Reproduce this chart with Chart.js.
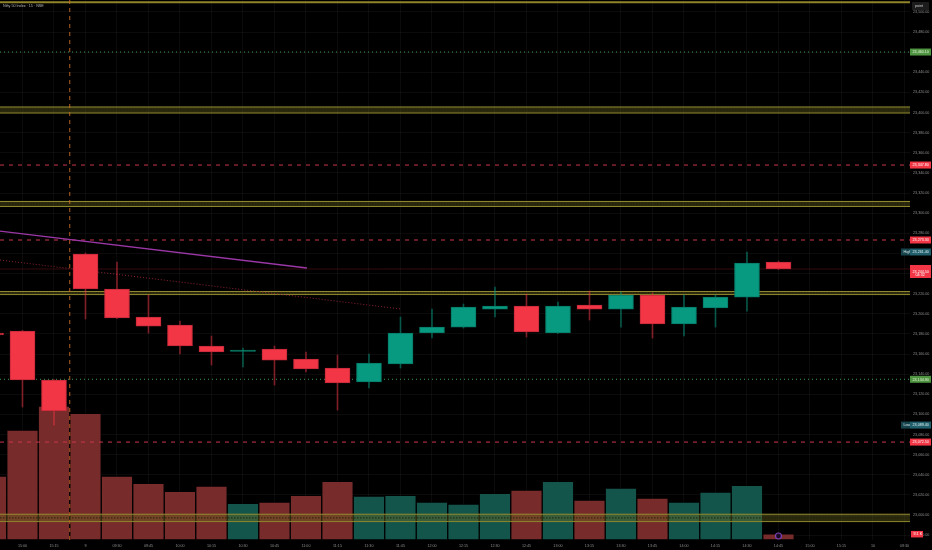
<!DOCTYPE html>
<html>
<head>
<meta charset="utf-8">
<script src="https://cdn.jsdelivr.net/npm/chart.js@4.4.1/dist/chart.umd.min.js"></script>
<style>
  html, body { margin: 0; padding: 0; background: #000; }
  canvas { display: block; }
</style>
</head>
<body>
<canvas id="chart" width="932" height="550"></canvas>
<script>
// slots: index -1 .. 28 (15 min bars), label per slot
var slotIndex = [-1, 0, 1, 2, 3, 4, 5, 6, 7, 8, 9, 10, 11, 12, 13, 14, 15, 16, 17, 18, 19, 20, 21, 22, 23, 24, 25, 26, 27, 28];
var timeLabels = ["14:45", "15:00", "15:15", "9", "09:30", "09:45", "10:00", "10:15", "10:30", "10:45", "11:00", "11:15",
  "11:30", "11:45", "12:00", "12:15", "12:30", "12:45", "13:00", "13:15", "13:30", "13:45", "14:00", "14:15",
  "14:30", "14:45", "15:00", "15:15", "10", "09:30"];

// candles for slots -1 .. 24
var opens  = [23180.9, 23182.9, 23134.2, 23259.4, 23224.6, 23196.8, 23188.8, 23168.0, 23162.5, 23165.0, 23155.0, 23146.1, 23132.2,
  23150.1, 23180.9, 23186.8, 23204.7, 23207.7, 23180.9, 23208.7, 23204.7, 23218.6, 23189.8, 23205.7, 23216.6, 23251.4];
var highs  = [23183.0, 23183.5, 23134.6, 23260.4, 23251.4, 23218.6, 23192.8, 23177.9, 23166.0, 23168.0, 23162.0, 23159.0, 23160.0,
  23196.8, 23204.7, 23209.7, 23226.6, 23219.6, 23211.7, 23222.6, 23221.6, 23220.6, 23218.6, 23218.6, 23261.4, 23252.4];
var lows   = [23176.0, 23107.3, 23089.4, 23194.8, 23195.2, 23180.9, 23160.0, 23149.1, 23147.1, 23129.2, 23142.1, 23104.3, 23126.2,
  23146.1, 23175.9, 23185.8, 23196.8, 23176.9, 23180.5, 23193.8, 23186.8, 23175.9, 23177.9, 23186.8, 23202.7, 23244.0];
var closes = [23178.9, 23134.2, 23103.4, 23224.6, 23195.8, 23187.8, 23168.0, 23162.0, 23164.0, 23154.0, 23145.1, 23131.2, 23151.1,
  23180.9, 23186.8, 23206.7, 23207.7, 23181.9, 23207.7, 23204.7, 23218.6, 23189.8, 23206.7, 23216.6, 23250.4, 23244.5];
var volumes = [96, 165, 201, 190, 96, 85, 73, 81, 55, 57, 67, 88, 66, 67, 57, 54, 70, 75, 88, 60, 78, 63, 57, 72, 82, 9.1]; // K

var priceTicks = [22980, 23000, 23020, 23040, 23060, 23080, 23100, 23120, 23140, 23160, 23180, 23200, 23220, 23240,
  23260, 23280, 23300, 23320, 23340, 23360, 23380, 23400, 23420, 23440, 23460, 23480, 23500];

// drawings on the chart
var topLevel = [23509.5];
var greenLevels = [23460.1, 23134.9];
var redLevels = [23347.8, 23273.3, 23072.5];
var zoneTops = [23405.5, 23311.6, 23222.1, 23000.8];
var zoneBottoms = [23399.5, 23306.6, 23219.1, 22993.5];
var trendPurple = [[-0.714, 23282.2], [9.03, 23245.5]];
var trendRed = [[-0.714, 23253.4], [12.02, 23204.7]];
var sessionBreaks = [1.5];
var eventMarks = [[24, 6]];

var X_MIN = -0.714, X_MAX = 28.175;
var Y_MIN = 22975.2, Y_MAX = 23511.8;
var UP = '#089981', DOWN = '#f23645';
var FONT = '"Liberation Sans", Arial, sans-serif';

function fmt(v) {
  return v.toLocaleString('en-US', { minimumFractionDigits: 2, maximumFractionDigits: 2 });
}
function candleSlot(k) { return slotIndex[k]; }
var isUp = opens.map(function (o, k) { return closes[k] >= o; });

var datasets = [];

// candle bodies and wicks
datasets.push({
  type: 'bar', label: 'body', order: 1, grouped: false, yAxisID: 'y',
  data: opens.map(function (o, k) { return { x: candleSlot(k), y: [o, closes[k]] }; }),
  backgroundColor: isUp.map(function (u) { return u ? UP : DOWN; }),
  borderColor: isUp.map(function (u) { return u ? '#067a67' : '#c22a3a'; }),
  borderWidth: 1, borderSkipped: false, barThickness: 25, minBarLength: 1
});
datasets.push({
  type: 'bar', label: 'wick', order: 2, grouped: false, yAxisID: 'y',
  data: highs.map(function (h, k) { return { x: candleSlot(k), y: [lows[k], h] }; }),
  backgroundColor: isUp.map(function (u) { return u ? 'rgba(8,153,129,0.55)' : 'rgba(242,54,69,0.5)'; }),
  borderWidth: 0, barThickness: 1
});
// volume
datasets.push({
  type: 'bar', label: 'volume', order: 20, grouped: false, yAxisID: 'yv',
  data: volumes.map(function (v, k) { return { x: candleSlot(k), y: v }; }),
  backgroundColor: isUp.map(function (u) { return u ? '#13554b' : '#772b2b'; }),
  borderColor: 'rgba(0,0,0,0.35)', borderWidth: 1, borderSkipped: false, barThickness: 31.5
});
datasets.push({
  type: 'scatter', label: 'event', order: 0, yAxisID: 'yv',
  data: eventMarks.map(function (e) { return { x: e[0], y: e[1] }; }),
  pointRadius: 3, pointBackgroundColor: '#1a0b24', pointBorderColor: '#7b3fb0', pointBorderWidth: 1.2
});

function hline(p, color, dash, width, order) {
  return {
    type: 'line', order: order, yAxisID: 'y',
    data: [{ x: X_MIN, y: p }, { x: X_MAX, y: p }],
    borderColor: color, borderDash: dash, borderWidth: width, pointRadius: 0, fill: false
  };
}

// zones
zoneTops.forEach(function (t, k) {
  var b = zoneBottoms[k];
  var ds = hline(t, '#958c30', [], 1, 6);
  ds.fill = { value: b };
  ds.backgroundColor = 'rgba(110,105,30,0.4)';
  datasets.push(ds);
  datasets.push(hline(b, '#958c30', [], 1, 6));
  datasets.push(hline((t + b) / 2, 'rgba(30,30,15,0.9)', [1.5, 1.5], 1, 5));
});
topLevel.forEach(function (p) { datasets.push(hline(p, '#8f8429', [], 2, 6)); });
greenLevels.forEach(function (p) { datasets.push(hline(p, '#3f9a55', [1, 3], 1, 6)); });
redLevels.forEach(function (p) { datasets.push(hline(p, '#c8364a', [4, 5], 1, 6)); });
datasets.push(hline(closes[closes.length - 1], 'rgba(242,54,69,0.22)', [], 1, 7));

// trend lines
datasets.push({
  type: 'line', order: 4, yAxisID: 'y',
  data: trendPurple.map(function (p) { return { x: p[0], y: p[1] }; }),
  borderColor: '#9b37a6', borderWidth: 1.3, pointRadius: 0, fill: false
});
datasets.push({
  type: 'line', order: 4, yAxisID: 'y',
  data: trendRed.map(function (p) { return { x: p[0], y: p[1] }; }),
  borderColor: '#8e2335', borderWidth: 1, borderDash: [1, 2], pointRadius: 0, fill: false
});
// session break
sessionBreaks.forEach(function (s) {
  datasets.push({
    type: 'line', order: 3, yAxisID: 'y',
    data: [{ x: s, y: Y_MIN }, { x: s, y: Y_MAX }],
    borderColor: 'rgba(214,110,40,0.85)', borderWidth: 1, borderDash: [4, 4], pointRadius: 0, fill: false
  });
});

function box(ctx, x, y, w, h, bg, txt, fg) {
  ctx.fillStyle = bg;
  ctx.fillRect(x, y, w, h);
  if (txt) {
    ctx.fillStyle = fg;
    ctx.fillText(txt, x + 2.5, y + h / 2 + 0.2);
  }
}

function noPad(s) {
  s.paddingLeft = 0; s.paddingRight = 0; s.paddingTop = 0; s.paddingBottom = 0;
}

var overlay = {
  id: 'overlay',
  afterDraw: function (chart) {
    var ctx = chart.ctx, ys = chart.scales.y, yv = chart.scales.yv, a = chart.chartArea;
    var L = a.right;
    ctx.save();
    ctx.font = '3.7px ' + FONT;
    ctx.textBaseline = 'middle';
    ctx.textAlign = 'left';
    // title
    ctx.fillStyle = '#b5b5b5';
    ctx.fillText('Nifty 50 Index · 15 · NSE', 3, 5.5);
    // top right button
    ctx.fillStyle = '#1c1c1c';
    ctx.fillRect(912, 2, 17, 8);
    ctx.fillStyle = '#d0d0d0';
    ctx.fillText('point', 915, 6.2);

    greenLevels.forEach(function (p) {
      box(ctx, L, ys.getPixelForValue(p) - 3.5, 21, 7, '#4f9440', fmt(p), '#e6f5dc');
    });
    redLevels.forEach(function (p) {
      box(ctx, L, ys.getPixelForValue(p) - 3.5, 21, 7, DOWN, fmt(p), '#ffffff');
    });
    var hi = Math.max.apply(null, highs), lo = Math.min.apply(null, lows);
    var yh = ys.getPixelForValue(hi);
    box(ctx, L - 9, yh - 3.5, 9, 7, '#17434c', 'High', '#d6e8ea');
    box(ctx, L, yh - 3.5, 21, 7, '#1f5e6b', fmt(hi), '#e0eef0');
    var yl = ys.getPixelForValue(lo);
    box(ctx, L - 9, yl - 3.5, 9, 7, '#17434c', 'Low', '#d6e8ea');
    box(ctx, L, yl - 3.5, 21, 7, '#1f5e6b', fmt(lo), '#e0eef0');
    // last price with countdown
    var last = closes[closes.length - 1];
    var yc = ys.getPixelForValue(last);
    box(ctx, L, yc - 4, 21, 13, DOWN, fmt(last), '#ffffff');
    ctx.fillStyle = '#ffffff';
    ctx.fillText('04:32', L + 5.5, yc + 5.5);
    // last volume
    var lv = volumes[volumes.length - 1];
    var yvp = yv.getPixelForValue(lv);
    box(ctx, L + 1, yvp - 3, 12, 6.5, DOWN, lv.toFixed(1) + ' K', '#ffffff');
    ctx.restore();
  }
};

var chart = new Chart(document.getElementById('chart').getContext('2d'), {
  type: 'bar',
  data: { datasets: datasets },
  plugins: [overlay],
  options: {
    responsive: false,
    animation: false,
    layout: { padding: 0, autoPadding: false },
    plugins: { legend: { display: false }, tooltip: { enabled: false } },
    scales: {
      x: {
        type: 'linear', min: X_MIN, max: X_MAX, offset: false,
        afterFit: function (s) { s.height = 10; noPad(s); },
        afterBuildTicks: function (s) {
          s.ticks = slotIndex.filter(function (v) { return v >= 0; }).map(function (v) { return { value: v }; });
        },
        ticks: {
          autoSkip: false, maxRotation: 0, padding: 4, color: '#8e8e8e',
          font: { size: 3.7, family: FONT },
          callback: function (v) { return timeLabels[slotIndex.indexOf(v)]; }
        },
        grid: { color: 'rgba(255,255,255,0.045)', drawTicks: false, offset: false },
        border: { display: false }
      },
      y: {
        position: 'right', min: Y_MIN, max: Y_MAX,
        afterFit: function (s) { s.width = 22; noPad(s); },
        afterBuildTicks: function (s) { s.ticks = priceTicks.map(function (v) { return { value: v }; }); },
        ticks: { padding: 3, color: '#8e8e8e', font: { size: 3.7, family: FONT }, callback: function (v) { return fmt(v); } },
        grid: { color: 'rgba(255,255,255,0.045)', drawTicks: false },
        border: { display: false }
      },
      yv: { display: false, min: 0, max: 810 }
    }
  }
});
</script>
</body>
</html>
